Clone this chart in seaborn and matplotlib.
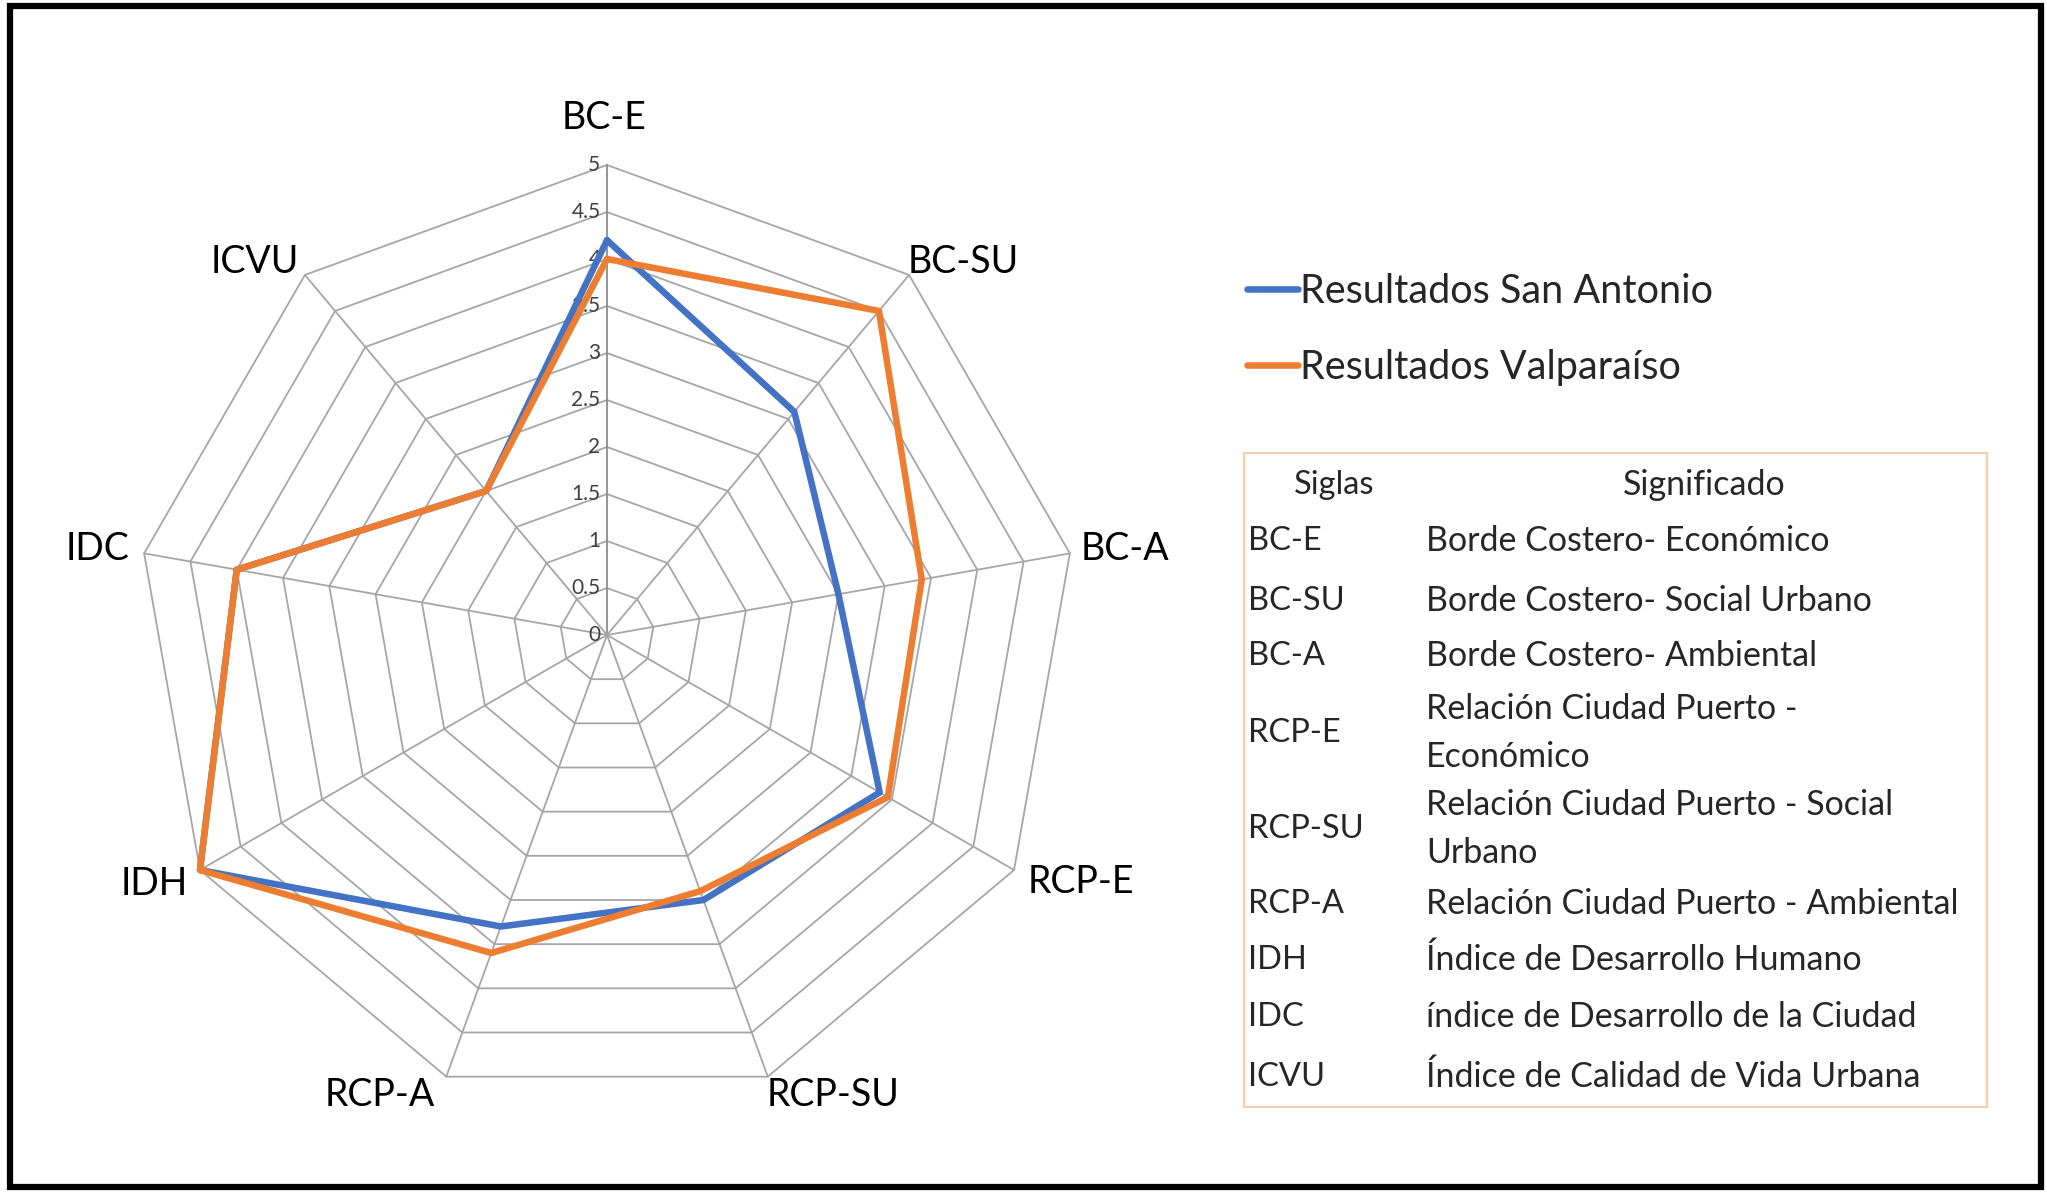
import numpy as np
import pandas as pd
import seaborn as sns
import matplotlib.pyplot as plt
from matplotlib.patches import Rectangle

# =====================
# DATA
# =====================
categorias = ["BC-E", "BC-SU", "BC-A", "RCP-E", "RCP-SU", "RCP-A", "IDH", "IDC", "ICVU"]
san_antonio = [4.2, 3.1, 2.5, 3.35, 3.0, 3.3, 5.0, 4.0, 2.0]
valparaiso = [4.0, 4.5, 3.4, 3.45, 2.9, 3.6, 5.0, 4.0, 2.0]
series = ["Resultados San Antonio", "Resultados Valparaíso"]
colores = ["#4472C4", "#ED7D31"]
ticks = [0, 0.5, 1, 1.5, 2, 2.5, 3, 3.5, 4, 4.5, 5]

siglas = ["BC-E", "BC-SU", "BC-A", "RCP-E", "RCP-SU", "RCP-A", "IDH", "IDC", "ICVU"]
significado = [
    "Borde Costero- Económico",
    "Borde Costero- Social Urbano",
    "Borde Costero- Ambiental",
    "Relación Ciudad Puerto -\nEconómico",
    "Relación Ciudad Puerto - Social\nUrbano",
    "Relación Ciudad Puerto - Ambiental",
    "Índice de Desarrollo Humano",
    "índice de Desarrollo de la Ciudad",
    "Índice de Calidad de Vida Urbana",
]

# =====================
# LAYOUT
# =====================
W, H, DPI = 2047, 1193, 100
CX, CY = 607, 635      # centro del radar (px)
PX = 94                # px por unidad

# centro de cada etiqueta de categoria (unidades del radar)
pos_etiquetas = [(-0.03, 5.5), (3.79, 3.97), (5.51, 0.92), (5.04, -2.63), (2.40, -4.89),
                 (-2.42, -4.89), (-4.82, -2.65), (-5.42, 0.92), (-3.75, 3.97)]
filas_y = [541, 601, 656, 733, 829, 904, 960, 1017, 1077]

sns.set_theme(style="white")
plt.rcParams["font.family"] = ["Lato", "DejaVu Sans"]

fig = plt.figure(figsize=(W / DPI, H / DPI), dpi=DPI)
ax = fig.add_axes([0, 0, 1, 1])
ax.set_xlim(-CX / PX, (W - CX) / PX)
ax.set_ylim(-(H - CY) / PX, CY / PX)
ax.axis("off")

n = len(categorias)
ang = np.arange(n) * 2 * np.pi / n
ang_c = np.append(ang, ang[0])

# rejilla poligonal
for r in ticks[1:]:
    ax.plot(r * np.sin(ang_c), r * np.cos(ang_c), color="#a6a6a6", lw=1.3, zorder=1)
for i, a in enumerate(ang):
    ax.plot([0, 5 * np.sin(a)], [0, 5 * np.cos(a)],
            color="#8c8c8c" if i == 0 else "#a6a6a6", lw=1.3, zorder=1)

for t in ticks:
    ax.text(-0.07, t, f"{t:g}", ha="right", va="center", fontsize=15, color="#404040")

for (x, y), c in zip(pos_etiquetas, categorias):
    ax.text(x, y, c, ha="center", va="center", fontsize=27, color="black")

# series
rows = []
for nombre, vals in zip(series, [san_antonio, valparaiso]):
    v = np.append(vals, vals[0])
    for i, (a, r) in enumerate(zip(ang_c, v)):
        rows.append({"serie": nombre, "orden": i, "x": r * np.sin(a), "y": r * np.cos(a)})
df = pd.DataFrame(rows)

sns.lineplot(data=df, x="x", y="y", hue="serie", sort=False, estimator=None,
             palette=colores, linewidth=4.7, ax=ax, zorder=3)

ax.legend(loc="upper left", bbox_to_anchor=(1247 / W, 1 - 273 / H),
          bbox_transform=fig.transFigure, frameon=False, fontsize=28.5,
          handlelength=1.3, handletextpad=0.05, labelspacing=0.98,
          borderpad=0, borderaxespad=0)

# tabla de siglas
fig.patches.append(Rectangle((1244 / W, 1 - 1107 / H), (1987 - 1244) / W, (1107 - 453) / H,
                             transform=fig.transFigure, fill=False, edgecolor="#F8CBAD", lw=1.5))
fig.text(1334 / W, 1 - 485 / H, "Siglas", ha="center", va="center", fontsize=23.5, color="#262626")
fig.text(1704 / W, 1 - 485 / H, "Significado", ha="center", va="center", fontsize=24.5, color="#262626")
for s, m, y in zip(siglas, significado, filas_y):
    fig.text(1248 / W, 1 - y / H, s, ha="left", va="center", fontsize=23.5, color="#262626")
    fig.text(1426 / W, 1 - y / H, m, ha="left", va="center", fontsize=24.5, color="#262626",
             linespacing=1.62)

# marco exterior
fig.patches.append(Rectangle((10 / W, 6 / H), (2041 - 10) / W, (1187 - 6) / H,
                             transform=fig.transFigure, fill=False, edgecolor="black", lw=4.5))

fig.savefig("out.png", dpi=DPI)
